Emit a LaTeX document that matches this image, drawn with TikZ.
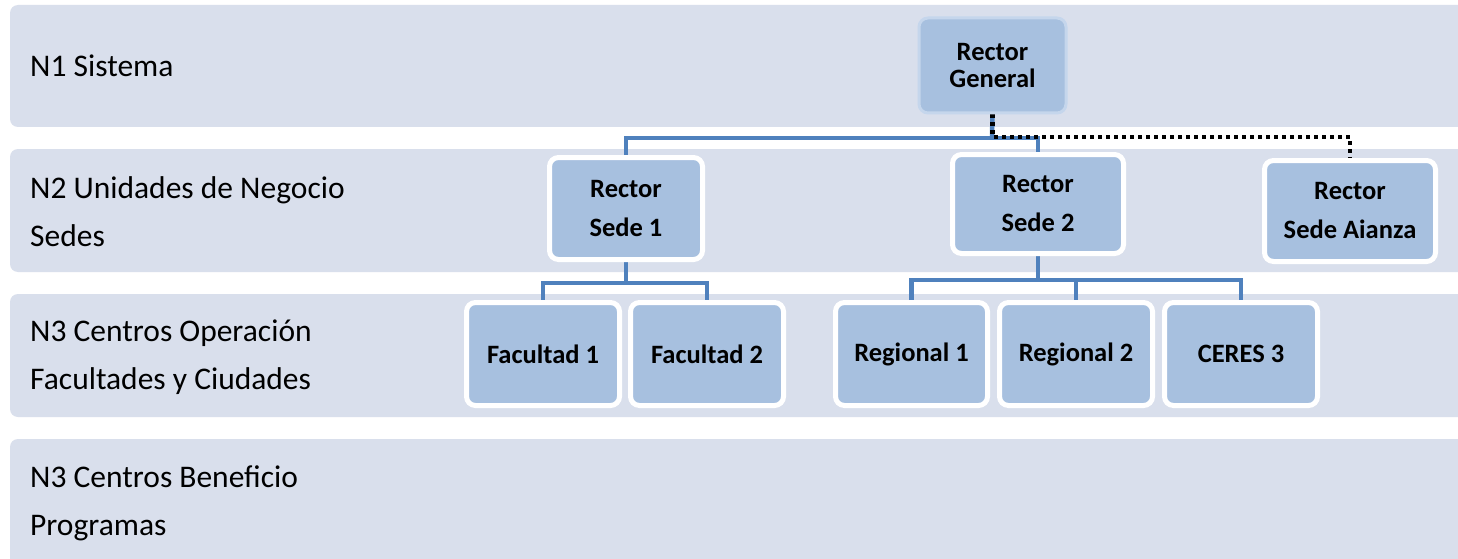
\documentclass[tikz,border=0pt]{standalone}
\usepackage{fontspec}
\setmainfont{Carlito}
\pgfdeclarelayer{bg}
\pgfdeclarelayer{mid}
\pgfsetlayers{bg,mid,main}
\definecolor{bandc}{RGB}{217,223,236}
\definecolor{boxc}{RGB}{167,192,223}
\definecolor{linec}{RGB}{79,129,189}
\definecolor{rgedge}{RGB}{197,214,236}
\tikzset{
  band/.style={fill=bandc, draw=none, rounded corners=8pt},
  lbl/.style={anchor=base west, inner sep=0pt, align=left, font=\fontsize{31.5}{48}\selectfont},
  orgbox/.style={draw=white, line width=5pt, fill=boxc, rounded corners=9pt, align=center,
     inner sep=0pt, font=\fontsize{26.5}{39}\selectfont\bfseries},
  conn/.style={draw=linec, line width=4.5pt},
  dotconn/.style={draw=black, line width=4.5pt, dash pattern=on 4pt off 4pt}
}
\begin{document}
\begin{tikzpicture}[x=1pt,y=-1pt]
\useasboundingbox (0,0) rectangle (1458,559);
\begin{pgfonlayer}{bg}
\fill[white] (0,0) rectangle (1458,559);
\path[band] (10,5) rectangle (1470,127);
\path[band] (10,149) rectangle (1470,272);
\path[band] (10,294) rectangle (1470,417);
\path[band] (10,439) rectangle (1470,575);
\end{pgfonlayer}
% level labels (anchor at baseline of last line)
\node[lbl] (l1) at (30,77) {N1 Sistema};
\node[lbl] (l2) at (30,246) {N2 Unidades de Negocio\\Sedes};
\node[lbl] (l3) at (30,389) {N3 Centros Operación\\Facultades y Ciudades};
\node[lbl] (l4) at (30,535) {N3 Centros Beneficio\\Programas};
% boxes
\node[orgbox, draw=rgedge, line width=3pt, minimum width=147pt, minimum height=95pt,
      font=\fontsize{26.5}{27}\selectfont\bfseries] (rg) at (992.5,65.5) {Rector\\General};
\node[orgbox, minimum width=153pt, minimum height=102pt] (s1) at (626,208.5) {Rector\\Sede 1};
\node[orgbox, minimum width=171pt, minimum height=99pt] (s2) at (1038,204) {Rector\\Sede 2};
\node[orgbox, minimum width=171pt, minimum height=101pt] (sa) at (1350,211) {Rector\\Sede Aianza};
\node[orgbox, minimum width=153pt, minimum height=103pt] (f1) at (543,354) {Facultad 1};
\node[orgbox, minimum width=153pt, minimum height=103pt] (f2) at (707,354) {Facultad 2};
\node[orgbox, minimum width=152pt, minimum height=103pt] (r1) at (911.5,354) {Regional 1};
\node[orgbox, minimum width=153pt, minimum height=103pt] (r2) at (1076,354) {Regional 2};
\node[orgbox, minimum width=153pt, minimum height=103pt] (c3) at (1241,354) {CERES 3};
% junction coordinates
\coordinate (jt) at (992,138);
\coordinate (j1) at (626,283);
\coordinate (j2) at (1038,280);
\coordinate (jd) at (1350,137);
\begin{pgfonlayer}{mid}
\draw[conn] (rg.south) -- (jt);
\draw[conn] (s1.north) |- (jt) -| (s2.north);
\draw[conn] (s1.south) -- (j1);
\draw[conn] (f1.north) |- (j1) -| (f2.north);
\draw[conn] (s2.south) -- (j2);
\draw[conn] (r1.north) |- (j2) -| (c3.north);
\draw[conn] (r2.north) -- (r2.north |- j2);
\draw[dotconn] (rg.south) |- (jd) -- ([yshift=-5pt]sa.north);
\end{pgfonlayer}
\end{tikzpicture}
\end{document}
